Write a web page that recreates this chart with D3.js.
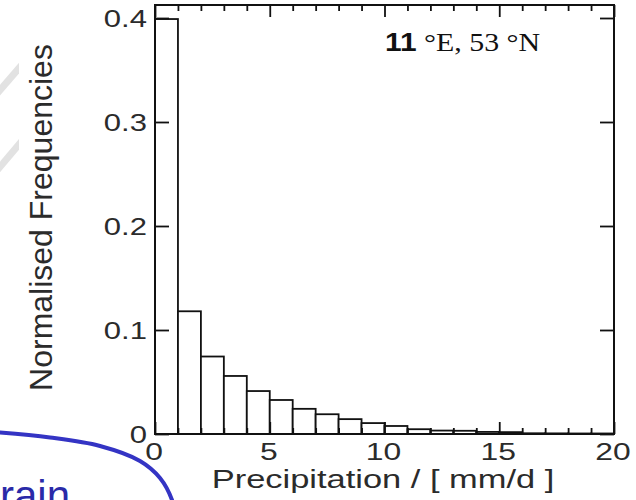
<!DOCTYPE html>
<html><head><meta charset="utf-8">
<script src="https://cdn.jsdelivr.net/npm/d3@7"></script>
<style>body{margin:0;background:#fff}svg{display:block}</style>
</head><body>
<svg id="c" width="636" height="500"></svg>
<script>
// ---- data ----
const binStarts = [0,1,2,3,4,5,6,7,8,9,10,11,12,13,14,15,16,17,18,19];
const freqs = [0.399,0.118,0.0745,0.0558,0.0413,0.0327,0.0242,0.019,0.0143,0.0105,
               0.0077,0.0046,0.0033,0.0031,0.002,0.0018,0.0007,0.0006,0.0005,0.0005];
const xMajorTicks = [0,5,10,15,20];
const xMinorTicks = [1,2,3,4,6,7,8,9,11,12,13,14,16,17,18,19];
const xTickLabels = ["0","5","10","15","20"];
const yTicks = [0,0.1,0.2,0.3,0.4];
const yTickLabels = ["0","0.1","0.2","0.3","0.4"];
const xTitle = "Precipitation / [ mm/d ]";
const yTitle = "Normalised Frequencies";
const locBold = "11";
const locRest = " \u00B0E, 53 \u00B0N";
// decorative slide remnants
const bluePath = [[-8,432],[0,432.5],[50,437.5],[100,446],[140,461],[160,478],[172,500],[175,515]];

const svg = d3.select("#c");
const L = 155, R = 614, T = 5, B = 434;
const x = d3.scaleLinear().domain([0,20]).range([L,R]);
const y = d3.scaleLinear().domain([0,0.4125]).range([B,T]);
const ink = "#111";
const txt = "#2b2b2b";

// light grey watermark strokes at far left
const clip = svg.append("clipPath").attr("id","lc");
clip.append("rect").attr("x",0).attr("y",0).attr("width",19).attr("height",300);
const gw = svg.append("g").attr("clip-path","url(#lc)");
[[[-6,97],[26,60]],[[-6,174],[26,136]]].forEach(s=>{
  gw.append("line").attr("x1",s[0][0]).attr("y1",s[0][1]).attr("x2",s[1][0]).attr("y2",s[1][1])
    .attr("stroke","#e2e2e2").attr("stroke-width",7);
});

// blue curve + "rain"
svg.append("path").attr("d", d3.line().curve(d3.curveCatmullRom)(bluePath))
  .attr("fill","none").attr("stroke","#3434c4").attr("stroke-width",4);
svg.append("text").attr("x",0).attr("y",510).attr("font-family","Liberation Sans, Arial, sans-serif")
  .attr("font-size",42).attr("fill","#2a2aa8").text("rain");

// bars
svg.append("g").selectAll("rect").data(binStarts).join("rect")
  .attr("x", d=>x(d)).attr("y", (d,i)=>y(freqs[i]))
  .attr("width", d=>x(d+1)-x(d)).attr("height", (d,i)=>y(0)-y(freqs[i]))
  .attr("fill","#fff").attr("stroke",ink).attr("stroke-width",1.8);

// ticks (inward) via d3 axes
function ticks(g){ g.select(".domain").remove(); g.selectAll("line").attr("stroke",ink).attr("stroke-width",1.8); g.selectAll("text").remove(); }
svg.append("g").attr("transform",`translate(0,${B})`).call(d3.axisBottom(x).tickValues(xMajorTicks).tickSize(-12)).call(ticks);
svg.append("g").attr("transform",`translate(0,${B})`).call(d3.axisBottom(x).tickValues(xMinorTicks).tickSize(-6)).call(ticks);
svg.append("g").attr("transform",`translate(0,${T})`).call(d3.axisTop(x).tickValues(xMajorTicks).tickSize(-12)).call(ticks);
svg.append("g").attr("transform",`translate(0,${T})`).call(d3.axisTop(x).tickValues(xMinorTicks).tickSize(-6)).call(ticks);
svg.append("g").attr("transform",`translate(${L},0)`).call(d3.axisLeft(y).tickValues(yTicks).tickSize(-14)).call(ticks);
svg.append("g").attr("transform",`translate(${R},0)`).call(d3.axisRight(y).tickValues(yTicks).tickSize(-14)).call(ticks);

// frame
svg.append("rect").attr("x",L).attr("y",T).attr("width",R-L).attr("height",B-T)
  .attr("fill","none").attr("stroke",ink).attr("stroke-width",2);

// tick labels
const sans = "Liberation Sans, Arial, Helvetica, sans-serif";
svg.append("g").selectAll("text").data(xMajorTicks).join("text")
  .attr("transform", d=>`translate(${x(d)-1},460) scale(1.3,1)`)
  .attr("text-anchor","middle").attr("font-family",sans).attr("font-size",24.5).attr("fill",txt)
  .text((d,i)=>xTickLabels[i]);
svg.append("g").selectAll("text").data(yTicks).join("text")
  .attr("transform", d=>`translate(147,${y(d)+8.8}) scale(1.35,1)`)
  .attr("text-anchor","end").attr("font-family",sans).attr("font-size",23).attr("fill",txt)
  .text((d,i)=>yTickLabels[i]);

// axis titles
svg.append("text").attr("transform","translate(383,488) scale(1.3,1)")
  .attr("text-anchor","middle").attr("font-family",sans).attr("font-size",26.5).attr("fill",txt).text(xTitle);
svg.append("text").attr("transform","translate(51.5,217.5) rotate(-90)")
  .attr("text-anchor","middle").attr("font-family",sans).attr("font-size",32).attr("fill",txt).text(yTitle);

// location annotation
const ann = svg.append("text").attr("transform","translate(385,51) scale(1.15,1)").attr("fill","#111");
ann.append("tspan").attr("font-family",sans).attr("font-weight","bold").attr("font-size",26).text(locBold);
ann.append("tspan").attr("font-family","Liberation Serif, Times New Roman, serif").attr("font-size",26).text(locRest);
</script>
</body></html>
